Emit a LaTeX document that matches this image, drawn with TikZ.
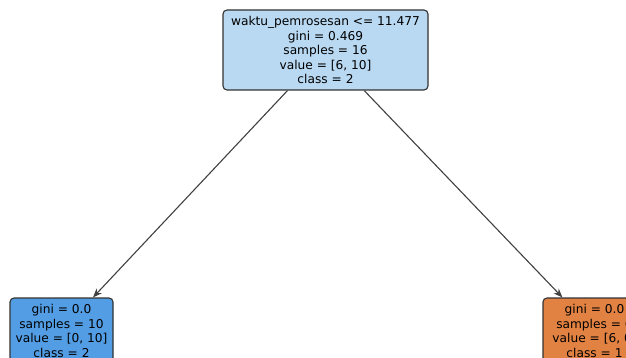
\documentclass[tikz,border=0pt]{standalone}
\usepackage{fontspec}
\setmainfont{DejaVu Sans}
\usetikzlibrary{arrows.meta}
\definecolor{rootfill}{RGB}{185,217,243}
\definecolor{bluefill}{RGB}{82,157,228}
\definecolor{orangefill}{RGB}{226,130,66}
\definecolor{edgegray}{RGB}{64,64,64}
\definecolor{bordergray}{RGB}{50,50,50}
\begin{document}
\begin{tikzpicture}[x=1pt,y=1pt,
  treenode/.style={draw=bordergray, line width=1.1pt, rounded corners=4pt,
    align=center, inner sep=0pt, font=\fontsize{12.2}{14.5}\selectfont},
  rootbox/.style={treenode, fill=rootfill, minimum width=205pt, minimum height=80pt},
  leafbox/.style={treenode, minimum width=103pt, minimum height=66pt},
  edgearrow/.style={draw=edgegray, line width=1.1pt, -{Stealth[length=9pt,width=7pt]}}]
\clip (0,0) rectangle (626,-358);
\node[rootbox] (root) at (325.5,-50) {waktu\_pemrosesan <= 11.477\\gini = 0.469\\samples = 16\\value = [6, 10]\\class = 2};
\node[leafbox, fill=bluefill] (left) at (61.5,-331) {gini = 0.0\\samples = 10\\value = [0, 10]\\class = 2};
\node[leafbox, fill=orangefill] (right) at (594.5,-331) {gini = 0.0\\samples = 6\\value = [6, 0]\\class = 1};
\draw[edgearrow] (root) -- (left);
\draw[edgearrow] (root) -- (right);
\end{tikzpicture}
\end{document}
